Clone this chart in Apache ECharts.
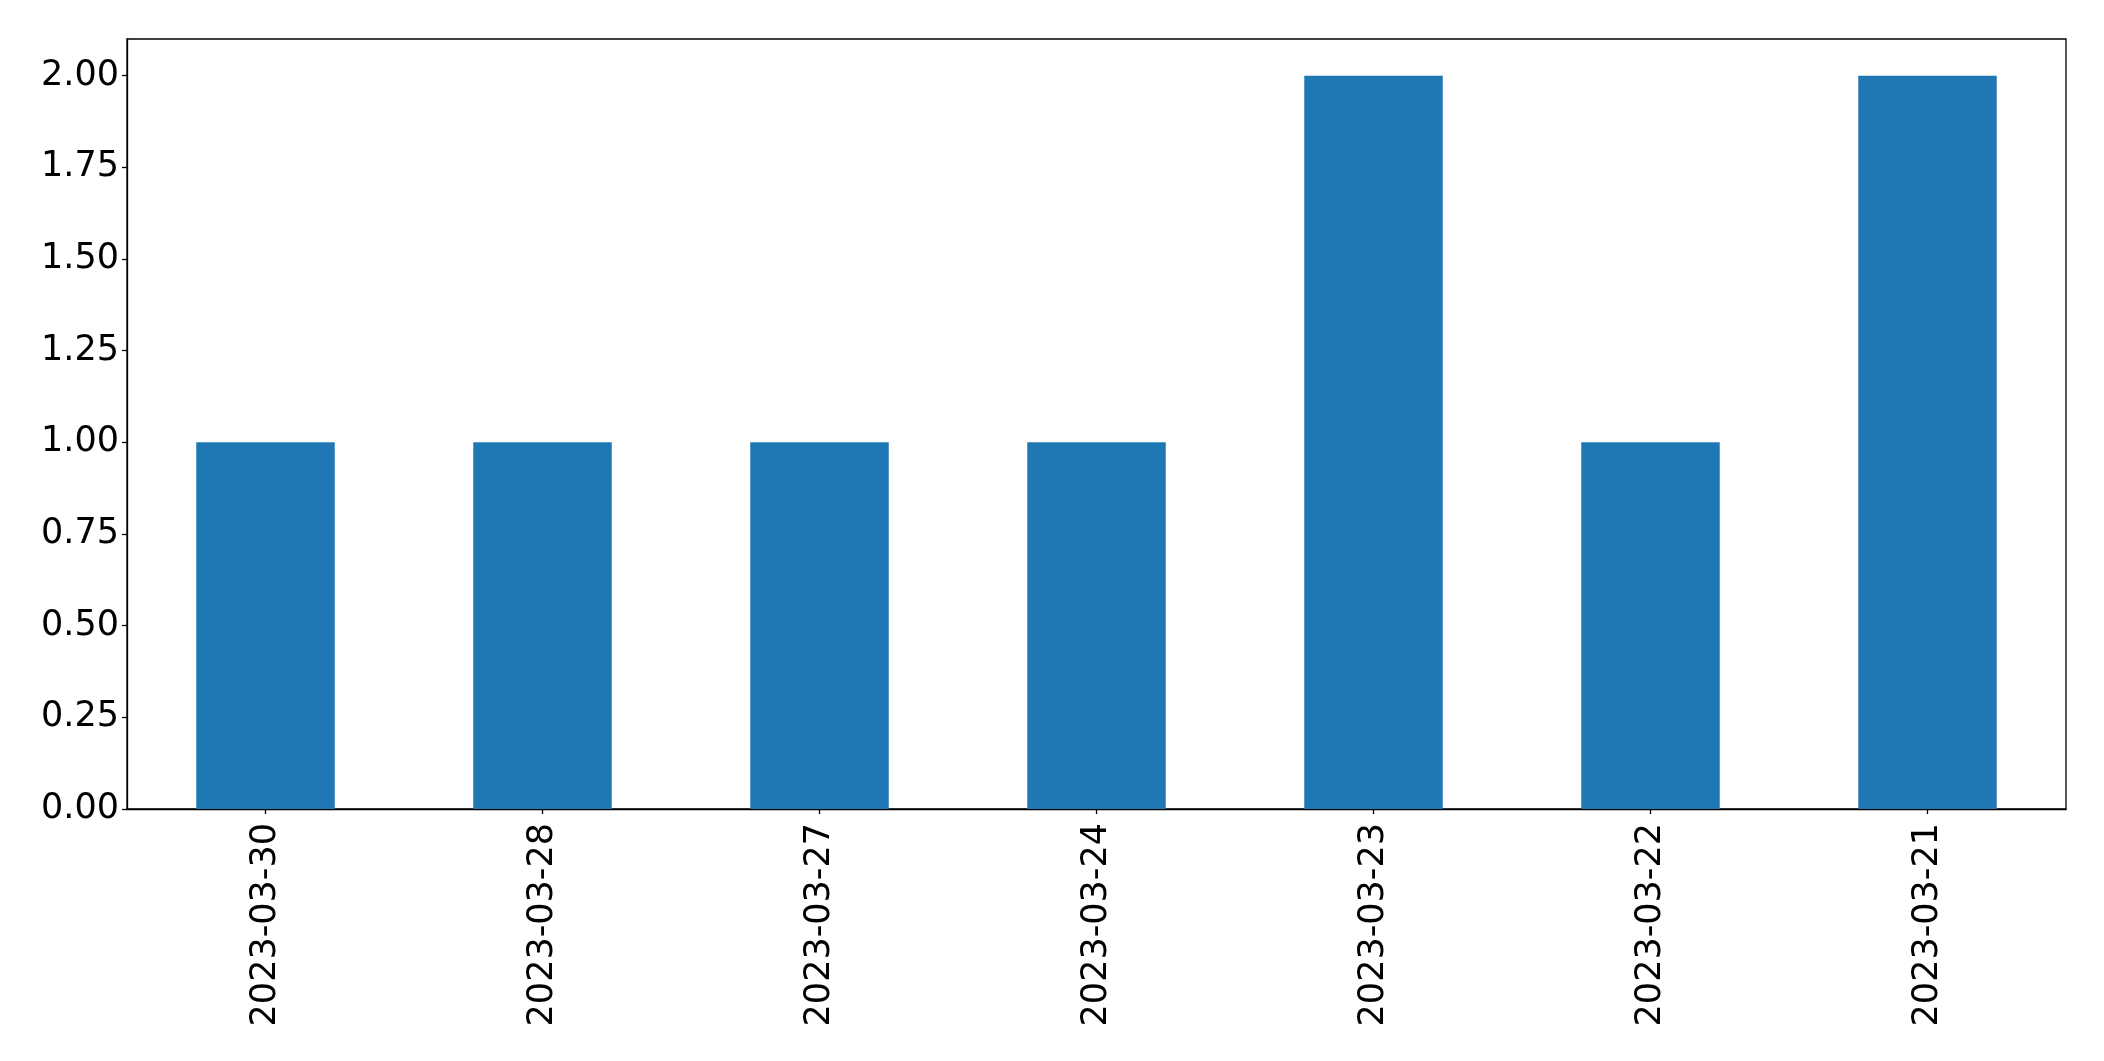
<!DOCTYPE html>
<html>
<head>
<meta charset="utf-8">
<script src="https://cdn.jsdelivr.net/npm/echarts@6/dist/echarts.min.js"></script>
<style>
html,body{margin:0;padding:0;background:#fff;}
#chart{width:2104px;height:1061px;}
</style>
</head>
<body>
<div id="chart"></div>
<script>
const categories = ['2023-03-30','2023-03-28','2023-03-27','2023-03-24','2023-03-23','2023-03-22','2023-03-21'];
const counts = [1, 1, 1, 1, 2, 1, 2];
const yTicks = [0, 0.25, 0.5, 0.75, 1.0, 1.25, 1.5, 1.75, 2.0];

const chart = echarts.init(document.getElementById('chart'));
const font = 'DejaVu Sans';
chart.setOption({
  animation: false,
  backgroundColor: '#fff',
  grid: {left: 127, right: 38, top: 39, bottom: 252, show: true, borderColor: '#000', borderWidth: 1.3, backgroundColor: 'transparent'},
  xAxis: {
    type: 'category',
    data: categories,
    axisLine: {show: true, lineStyle: {color: '#000', width: 1.3}},
    axisTick: {show: true, alignWithLabel: true, length: 5, lineStyle: {color: '#000', width: 1.3}},
    axisLabel: {rotate: 90, color: '#000', fontFamily: font, fontSize: 35, margin: 14, interval: 0},
    splitLine: {show: false}
  },
  yAxis: {
    type: 'value',
    min: 0,
    max: 2.1,
    interval: 0.25,
    axisLine: {show: true, lineStyle: {color: '#000', width: 1.3}},
    axisTick: {show: true, length: 5, lineStyle: {color: '#000', width: 1.3}},
    axisLabel: {
      color: '#000', fontFamily: font, fontSize: 35, margin: 8, showMaxLabel: false,
      formatter: function (v) {
        const hit = yTicks.find(t => Math.abs(t - v) < 1e-9);
        return hit === undefined ? '' : hit.toFixed(2);
      }
    },
    splitLine: {show: false}
  },
  series: [{
    type: 'bar',
    data: counts,
    barWidth: '50%',
    itemStyle: {color: '#1f77b4'}
  }]
});
</script>
</body>
</html>
